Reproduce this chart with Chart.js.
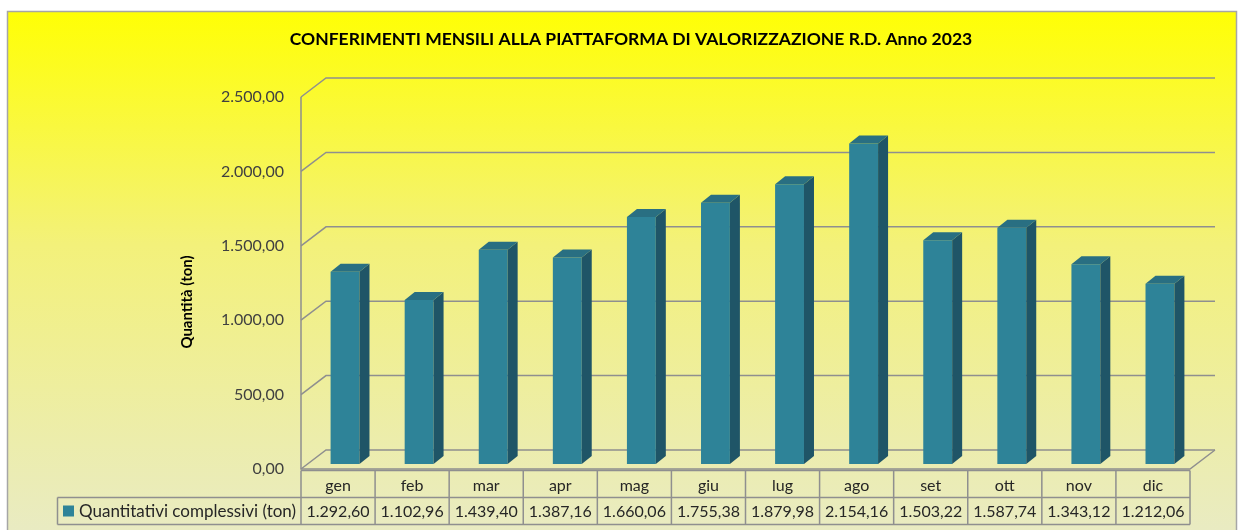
<!DOCTYPE html>
<html><head><meta charset="utf-8">
<script src="https://cdn.jsdelivr.net/npm/chart.js@4.4.0/dist/chart.umd.min.js"></script>
<style>html,body{margin:0;padding:0;background:#fff;}#wrap{width:1244px;height:530px;position:relative;}</style>
</head><body><div id="wrap"><canvas id="c"></canvas></div>
<script>
const categories = ['gen','feb','mar','apr','mag','giu','lug','ago','set','ott','nov','dic'];
const values = [1292.60, 1102.96, 1439.40, 1387.16, 1660.06, 1755.38, 1879.98, 2154.16, 1503.22, 1587.74, 1343.12, 1212.06];
const yTicks = [0, 500, 1000, 1500, 2000, 2500];
const chartTitle = 'CONFERIMENTI MENSILI ALLA PIATTAFORMA DI VALORIZZAZIONE R.D. Anno 2023';
const yAxisTitle = 'Quantità (ton)';
const seriesName = 'Quantitativi complessivi (ton)';

const FONT = 'Lato, "Open Sans", sans-serif';
const C_FRONT = '#2e8398', C_SIDE = '#1f5567', C_TOP = '#296f82';
const GRID = '#8f8f8f';
const FRONT = {dx: -7, dy: 5}, BACK = {dx: 18, dy: -14}, DEPTH = {dx: 10, dy: -8};

function fmtIt(v){
  const s = v.toFixed(2); let [i, d] = s.split('.');
  i = i.replace(/\B(?=(\d{3})+(?!\d))/g, '.');
  return i + ',' + d;
}

const deco = {
  id: 'deco',
  beforeDraw(chart){
    const ctx = chart.ctx;
    ctx.save();
    ctx.fillStyle = '#ffffff'; ctx.fillRect(0, 0, chart.width, chart.height);
    const g = ctx.createLinearGradient(0, 11, 0, 530);
    g.addColorStop(0, '#ffff05'); g.addColorStop(0.45, '#f3f17a'); g.addColorStop(1, '#e9ebc2');
    ctx.fillStyle = g; ctx.fillRect(7, 11, 1230, 530);
    ctx.strokeStyle = '#a6a6a6'; ctx.lineWidth = 1.5;
    ctx.strokeRect(7.5, 11.5, 1229, 540);
    ctx.restore();
  },
  beforeDatasetsDraw(chart){
    const ctx = chart.ctx, y = chart.scales.y, a = chart.chartArea;
    const fl = a.left + FRONT.dx, fr = a.right + FRONT.dx, bl = a.left + BACK.dx, br = a.right + BACK.dx;
    ctx.save();
    ctx.strokeStyle = GRID; ctx.lineWidth = 1.5;
    yTicks.forEach(v => {
      const p = y.getPixelForValue(v);
      ctx.beginPath();
      ctx.moveTo(fl, p + FRONT.dy); ctx.lineTo(bl, p + BACK.dy); ctx.lineTo(br, p + BACK.dy);
      ctx.stroke();
    });
    const p0 = y.getPixelForValue(0), pMax = y.getPixelForValue(yTicks[yTicks.length-1]);
    ctx.beginPath();
    ctx.moveTo(fl, pMax + FRONT.dy); ctx.lineTo(fl, p0 + FRONT.dy);
    ctx.lineTo(fr, p0 + FRONT.dy); ctx.lineTo(br, p0 + BACK.dy);
    ctx.stroke();
    ctx.restore();
  },
  afterDatasetsDraw(chart){
    const ctx = chart.ctx;
    const meta = chart.getDatasetMeta(0);
    ctx.save();
    meta.data.forEach(el => {
      const {x, y, width, base} = el.getProps(['x','y','width','base'], true);
      const l = x - width/2, r = x + width/2;
      ctx.fillStyle = C_SIDE;
      ctx.beginPath();
      ctx.moveTo(r, y); ctx.lineTo(r + DEPTH.dx, y + DEPTH.dy);
      ctx.lineTo(r + DEPTH.dx, base + DEPTH.dy); ctx.lineTo(r, base); ctx.closePath(); ctx.fill();
      ctx.fillStyle = C_TOP;
      ctx.beginPath();
      ctx.moveTo(l, y); ctx.lineTo(l + DEPTH.dx, y + DEPTH.dy);
      ctx.lineTo(r + DEPTH.dx, y + DEPTH.dy); ctx.lineTo(r, y); ctx.closePath(); ctx.fill();
    });
    ctx.restore();
  },
  afterDraw(chart){
    const ctx = chart.ctx, xs = chart.scales.x, ys = chart.scales.y, a = chart.chartArea;
    ctx.save();
    // title
    ctx.fillStyle = '#000'; ctx.textAlign = 'center'; ctx.textBaseline = 'middle';
    ctx.font = 'bold 17.5px ' + FONT;
    ctx.fillText(chartTitle, 631, 39);
    // y axis title
    ctx.save();
    ctx.translate(187, 302); ctx.rotate(-Math.PI/2);
    ctx.font = 'bold 15px ' + FONT;
    ctx.fillText(yAxisTitle, 0, 0);
    ctx.restore();
    // data table
    const slot = (a.right - a.left) / categories.length;
    const tTop = ys.getPixelForValue(0) + FRONT.dy + 1.5;
    const rowH = 27;
    const tl = a.left + FRONT.dx, tr = a.right + FRONT.dx, hl = 57.5;
    ctx.strokeStyle = GRID; ctx.lineWidth = 1.5;
    ctx.beginPath();
    ctx.moveTo(tl, tTop); ctx.lineTo(tr, tTop);
    ctx.moveTo(hl, tTop + rowH); ctx.lineTo(tr, tTop + rowH);
    ctx.moveTo(hl, tTop + 2*rowH); ctx.lineTo(tr, tTop + 2*rowH);
    ctx.moveTo(hl, tTop + rowH); ctx.lineTo(hl, tTop + 2*rowH);
    for (let i = 0; i <= categories.length; i++){
      const bx = xs.getPixelForValue(Math.min(i, categories.length-1)) + (i === categories.length ? slot/2 : -slot/2) + FRONT.dx;
      ctx.moveTo(bx, tTop); ctx.lineTo(bx, tTop + 2*rowH);
    }
    ctx.stroke();
    ctx.fillStyle = '#262626'; ctx.font = '16px ' + FONT; ctx.textAlign = 'center';
    categories.forEach((c, i) => {
      const cx = xs.getPixelForValue(i) + FRONT.dx;
      ctx.fillText(c, cx, tTop + rowH/2 + 2);
      ctx.fillText(fmtIt(values[i]), cx, tTop + rowH*1.5 + 1);
    });
    ctx.fillStyle = C_FRONT;
    ctx.fillRect(63, tTop + rowH + 8, 11, 11);
    ctx.fillStyle = '#262626'; ctx.textAlign = 'left';
    ctx.font = '17px ' + FONT;
    ctx.fillText(seriesName, 79, tTop + rowH*1.5 + 1);
    ctx.restore();
  }
};

new Chart(document.getElementById('c'), {
  type: 'bar',
  data: { labels: categories, datasets: [{ label: seriesName, data: values, backgroundColor: C_FRONT, borderWidth: 0, barPercentage: 0.39, categoryPercentage: 1 }] },
  options: {
    responsive: true, maintainAspectRatio: false, animation: false,
    layout: { padding: { left: 0, right: 47, top: 92, bottom: 66 } },
    plugins: { legend: { display: false }, tooltip: { enabled: false }, title: { display: false } },
    scales: {
      x: { display: false },
      y: {
        min: 0, max: 2500,
        afterFit: s => { s.width = 308; },
        afterBuildTicks: s => { s.ticks = yTicks.map(v => ({ value: v })); },
        grid: { display: false }, border: { display: false },
        ticks: { padding: 16, labelOffset: 5, color: '#404040', font: { family: FONT, size: 16 }, callback: v => fmtIt(v) }
      }
    }
  },
  plugins: [deco]
});
</script></body></html>
